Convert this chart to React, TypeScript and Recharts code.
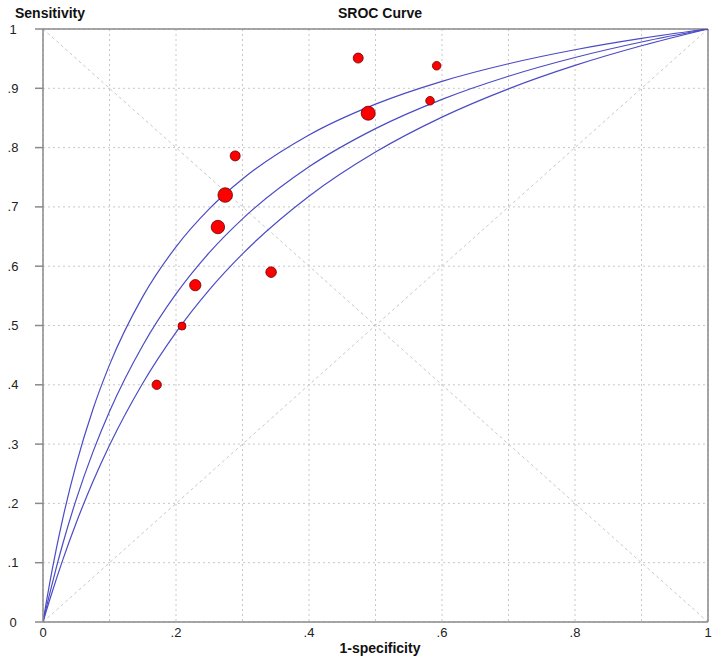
import React from 'react';
import {
  ComposedChart,
  Line,
  Scatter,
  XAxis,
  YAxis,
  ZAxis,
  CartesianGrid,
  ReferenceLine,
} from 'recharts';

// 1-specificity sample positions for the SROC curves
const curveX = [0, 0.005, 0.01, 0.02, 0.03, 0.05, 0.075, 0.1, 0.15, 0.2, 0.25, 0.3, 0.4, 0.5, 0.6, 0.7, 0.8, 0.9, 1];
const upperCurve = [0, 0.0335, 0.0651, 0.1233, 0.1757, 0.2661, 0.3584, 0.4336, 0.5487, 0.6327, 0.6967, 0.747, 0.8212, 0.8733, 0.9118, 0.9414, 0.965, 0.9841, 1];
const middleCurve = [0, 0.0243, 0.0476, 0.0918, 0.1328, 0.2068, 0.2865, 0.355, 0.4664, 0.5532, 0.6228, 0.6798, 0.7676, 0.832, 0.8814, 0.9204, 0.952, 0.9781, 1];
const lowerCurve = [0, 0.0188, 0.0371, 0.0723, 0.1056, 0.1674, 0.2364, 0.2979, 0.4026, 0.4884, 0.5601, 0.6207, 0.718, 0.7925, 0.8514, 0.8991, 0.9386, 0.9717, 1];

// Studies
const studyFpr = [0.171, 0.209, 0.229, 0.263, 0.274, 0.289, 0.343, 0.474, 0.489, 0.592, 0.582];
const studySens = [0.4, 0.499, 0.568, 0.666, 0.72, 0.786, 0.59, 0.951, 0.858, 0.938, 0.879];
const studyWeight = [22, 16, 32, 45, 53, 25, 28, 25, 49, 18.5, 18.5];

const tickValues = [0, 0.1, 0.2, 0.3, 0.4, 0.5, 0.6, 0.7, 0.8, 0.9, 1];
const xLabelValues = [0, 0.2, 0.4, 0.6, 0.8, 1];

const toCurve = (ys: number[]) => curveX.map((x, i) => ({ x, y: ys[i] }));
const upperData = toCurve(upperCurve);
const middleData = toCurve(middleCurve);
const lowerData = toCurve(lowerCurve);
const studyData = studyFpr.map((x, i) => ({ x, y: studySens[i], w: studyWeight[i] }));

const fmt = (v: number) => {
  if (v === 0) return '0';
  if (v === 1) return '1';
  return v.toFixed(1).replace(/^0/, '');
};

const FONT = 'Arial, "Liberation Sans", sans-serif';
const AXIS = '#8a8a8a';
const GRID = '#c8c8c8';
const CURVE = '#4b4bc4';

const YTick = (props: any) => {
  const { y, payload } = props;
  return (
    <text x={13} y={y} dy="0.35em" textAnchor="middle" fontSize={13} fill="#222" fontFamily={FONT}>
      {fmt(payload.value)}
    </text>
  );
};

const XTick = (props: any) => {
  const { x, payload } = props;
  const v = Math.round(payload.value * 10) / 10;
  if (!xLabelValues.includes(v)) return <g />;
  return (
    <text x={x} y={637} textAnchor="middle" fontSize={13} fill="#222" fontFamily={FONT}>
      {fmt(v)}
    </text>
  );
};

export default function App() {
  return (
    <div style={{ position: 'absolute', left: 0, top: 0, width: 720, height: 660, background: '#fff' }}>
      <ComposedChart
        width={720}
        height={660}
        margin={{ top: 29, right: 12, bottom: 0, left: 0 }}
      >
        <CartesianGrid stroke={GRID} strokeDasharray="2 3" />
        <XAxis
          type="number"
          dataKey="x"
          domain={[0, 1]}
          ticks={tickValues}
          height={38}
          axisLine={{ stroke: AXIS, strokeWidth: 1.5 }}
          tickLine={false}
          tick={<XTick />}
          allowDataOverflow
        />
        <YAxis
          type="number"
          dataKey="y"
          domain={[0, 1]}
          ticks={tickValues}
          width={43}
          axisLine={{ stroke: AXIS, strokeWidth: 1.5 }}
          tickLine={{ stroke: AXIS, strokeWidth: 1.5 }}
          tickSize={8}
          tick={<YTick />}
          allowDataOverflow
        />
        <ZAxis type="number" dataKey="w" domain={[0, 100]} range={[0, 314.16]} />
        <ReferenceLine
          segment={[{ x: 0, y: 1 }, { x: 1, y: 0 }]}
          stroke={GRID}
          strokeDasharray="3 3"
        />
        <ReferenceLine
          segment={[{ x: 0, y: 0 }, { x: 1, y: 1 }]}
          stroke={GRID}
          strokeDasharray="3 3"
        />
        <ReferenceLine y={1} stroke={AXIS} strokeWidth={1.5} />
        <ReferenceLine x={1} stroke={AXIS} strokeWidth={1.5} />
        <Line data={upperData} dataKey="y" type="monotone" stroke={CURVE} strokeWidth={1.2} dot={false} isAnimationActive={false} />
        <Line data={middleData} dataKey="y" type="monotone" stroke={CURVE} strokeWidth={1.2} dot={false} isAnimationActive={false} />
        <Line data={lowerData} dataKey="y" type="monotone" stroke={CURVE} strokeWidth={1.2} dot={false} isAnimationActive={false} />
        <Scatter data={studyData} fill="#ff0000" stroke="#6a0000" strokeWidth={0.8} isAnimationActive={false} />
      </ComposedChart>
      <svg
        width={720}
        height={660}
        style={{ position: 'absolute', left: 0, top: 0, pointerEvents: 'none' }}
      >
        <text x={15} y={18} fontSize={14} fontWeight="bold" fill="#111" fontFamily={FONT}>
          Sensitivity
        </text>
        <text x={380} y={18} fontSize={14} fontWeight="bold" fill="#111" textAnchor="middle" fontFamily={FONT}>
          SROC Curve
        </text>
        <text x={380} y={653} fontSize={14} fontWeight="bold" fill="#111" textAnchor="middle" fontFamily={FONT}>
          1-specificity
        </text>
      </svg>
    </div>
  );
}
